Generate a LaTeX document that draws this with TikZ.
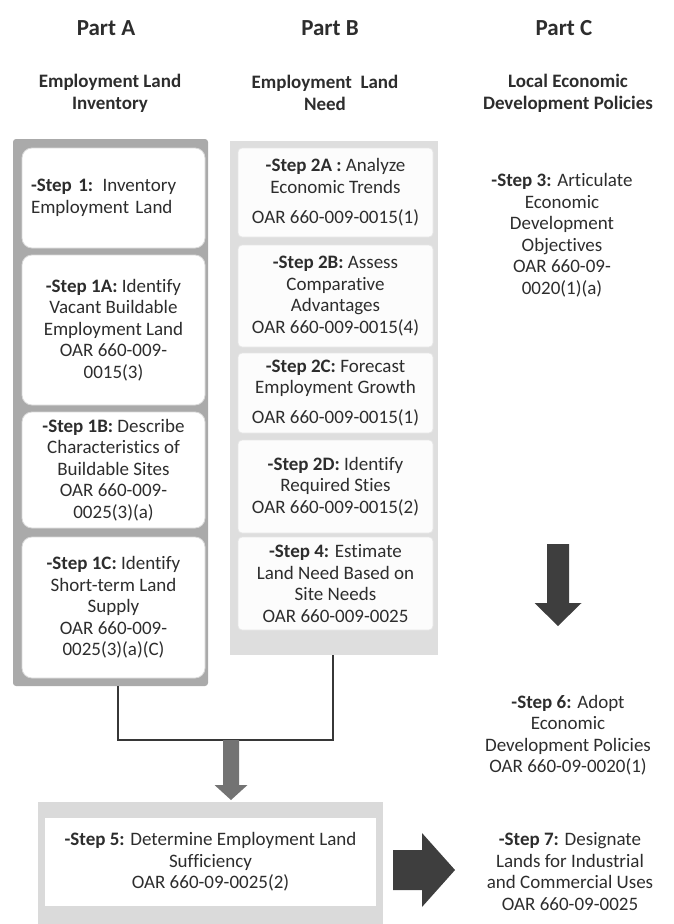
\documentclass[tikz,border=0pt]{standalone}
\usepackage{fontspec}
\setmainfont{Carlito}[Ligatures={NoCommon,NoRequired,NoContextual}]
\usetikzlibrary{calc}
\definecolor{txt}{RGB}{45,45,45}
\definecolor{frameA}{RGB}{170,170,170}
\definecolor{frameB}{RGB}{222,222,222}
\definecolor{boxBfill}{RGB}{252,252,252}
\definecolor{boxBline}{RGB}{230,230,230}
\definecolor{connc}{RGB}{55,55,55}
\definecolor{midarrow}{RGB}{115,115,115}
\definecolor{darkarrow}{RGB}{62,62,62}
\definecolor{frameFive}{RGB}{218,218,218}
\begin{document}
\begin{tikzpicture}[x=1pt,y=-1pt,
  every node/.style={text=txt, inner sep=0pt},
  body/.style={font=\fontsize{19}{21.5}\selectfont, align=center},
  hdr/.style={font=\bfseries\fontsize{23}{26}\selectfont},
  subhdr/.style={font=\bfseries\fontsize{19}{22}\selectfont, align=center},
  boxA/.style={body, fill=white, draw=black!15, line width=0.8pt, rounded corners=10pt, minimum width=183pt},
  boxB/.style={body, fill=boxBfill, draw=boxBline, line width=0.8pt, rounded corners=4pt, minimum width=195pt},
  connline/.style={draw=connc, line width=1.6pt},
]
\useasboundingbox (0,0) rectangle (673,924);

% headers
\node[hdr] (hA) at (106,28) {Part A};
\node[hdr] (hB) at (330,28) {Part B};
\node[hdr] (hC) at (564,28) {Part C};
\node[subhdr] (sA) at (110,93) {Employment Land\\Inventory};
\node[subhdr] (sB) at (325,93) {Employment\ \ Land\\Need};
\node[subhdr] (sC) at (568,93) {Local Economic\\Development Policies};

% containers
\node[fill=frameA, rounded corners=3pt, minimum width=195pt, minimum height=547pt] (partA) at (110.5,412.5) {};
\node[fill=frameB, minimum width=208pt, minimum height=514pt] (partB) at (334,398) {};

% Part A boxes
\node[boxA, minimum height=100pt, align=left, text width=165pt, inner xsep=9pt] (s1) at (113.5,198)
  {\textbf{-Step 1:} Inventory\\Employment Land};
\node[boxA, minimum height=150pt] (s1a) at (113.5,330)
  {\textbf{-Step 1A:} Identify\\Vacant Buildable\\Employment Land\\OAR 660-009-\\0015(3)};
\node[boxA, minimum height=116pt] (s1b) at (113.5,470)
  {\textbf{-Step 1B:} Describe\\Characteristics of\\Buildable Sites\\OAR 660-009-\\0025(3)(a)};
\node[boxA, minimum height=141pt] (s1c) at (113.5,607.5)
  {\textbf{-Step 1C:} Identify\\Short-term Land\\Supply\\OAR 660-009-\\0025(3)(a)(C)};

% Part B boxes
\node[boxB, minimum height=89pt] (s2a) at (335.5,192.5)
  {\textbf{-Step 2A :} Analyze\\Economic Trends\\[9pt]OAR 660-009-0015(1)};
\node[boxB, minimum height=102pt] (s2b) at (335.5,296)
  {\textbf{-Step 2B:} Assess\\Comparative\\Advantages\\OAR 660-009-0015(4)};
\node[boxB, minimum height=80pt] (s2c) at (335.5,393)
  {\textbf{-Step 2C:} Forecast\\Employment Growth\\[8pt]OAR 660-009-0015(1)};
\node[boxB, minimum height=93pt] (s2d) at (335.5,486.5)
  {\textbf{-Step 2D:} Identify\\Required Sties\\OAR 660-009-0015(2)};
\node[boxB, minimum height=93pt] (s4) at (335.5,583.5)
  {\textbf{-Step 4:} Estimate\\Land Need Based on\\Site Needs\\OAR 660-009-0025};

% Part C texts
\node[body] (s3) at (562,235)
  {\textbf{-Step 3:} Articulate\\Economic\\Development\\Objectives\\OAR 660-09-\\0020(1)(a)};
\node[body] (s6) at (568,735)
  {\textbf{-Step 6:} Adopt\\Economic\\Development Policies\\OAR 660-09-0020(1)};
\node[body] (s7) at (570,871.5)
  {\textbf{-Step 7:} Designate\\Lands for Industrial\\and Commercial Uses\\OAR 660-09-0025};

% Step 5
\node[fill=frameFive, minimum width=345pt, minimum height=122pt] (s5frame) at (210.5,863) {};
\node[body, fill=white, minimum width=331pt, minimum height=88pt] (s5) at (210.5,862)
  {\textbf{-Step 5:} Determine Employment Land\\Sufficiency\\OAR 660-09-0025(2)};

% connectors
\coordinate (jA) at (118,740);
\coordinate (jB) at (333,740);
\draw[connline] (partA.south -| jA) -- (jA) -- (jB) -- (partB.south -| jB);

% middle gray arrow
\coordinate (mA) at (231,740);
\fill[midarrow] ($(mA)+(-8,0)$) -- ($(mA)+(8,0)$) -- ($(mA)+(8,45)$) -- ($(mA)+(16.5,45)$)
  -- ($(mA)+(0,60)$) -- ($(mA)+(-16.5,45)$) -- ($(mA)+(-8,45)$) -- cycle;

% Part C down arrow
\coordinate (cA) at (558,544);
\fill[darkarrow] ($(cA)+(-11,0)$) -- ($(cA)+(11,0)$) -- ($(cA)+(11,59)$) -- ($(cA)+(23.5,59)$)
  -- ($(cA)+(0,82)$) -- ($(cA)+(-23.5,59)$) -- ($(cA)+(-11,59)$) -- cycle;

% right arrow
\coordinate (rA) at (393,870);
\fill[darkarrow] ($(rA)+(0,-20)$) -- ($(rA)+(29,-20)$) -- ($(rA)+(29,-37)$) -- ($(rA)+(62,0)$)
  -- ($(rA)+(29,37)$) -- ($(rA)+(29,20)$) -- ($(rA)+(0,20)$) -- cycle;
\end{tikzpicture}
\end{document}
